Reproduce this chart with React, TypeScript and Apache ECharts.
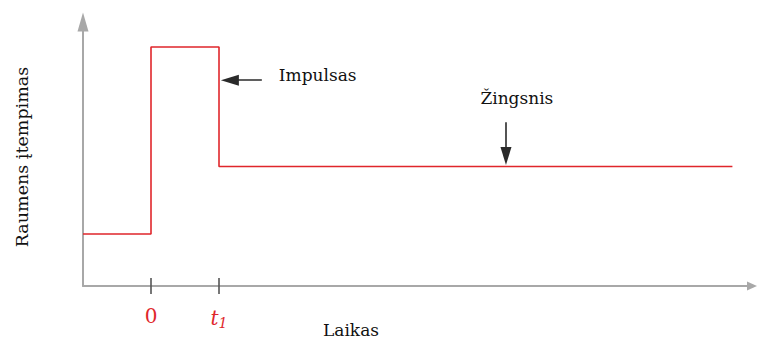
import React, { useEffect, useRef } from "react";
import * as echarts from "echarts";

// Muscle tension over time (arbitrary units)
const times = [-1, 0, 0, 1, 1, 8.55];
const tension = [1, 1, 4.6, 4.6, 2.3, 2.3];
const tickValues = [0, 1];
const tickLabels = ["0", "t1"];
// arrow ends are the centres of the arrow heads
const impulseArrow = { from: [1.63, 3.96], to: [1.16, 3.96] };
const stepArrow = { from: [5.22, 3.15], to: [5.22, 2.5] };
const impulseText = { label: "Impulsas", at: [1.88, 4.06] };
const stepText = { label: "Žingsnis", at: [5.38, 3.62] };
const xTitle = "Laikas";
const yTitle = "Raumens įtempimas";

const FONT = "DejaVu Serif";
const RED = "#e0262b";
const AXIS = "#a8a8a8";

export default function App() {
  const ref = useRef<HTMLDivElement>(null);
  useEffect(() => {
    if (!ref.current) return;
    const chart = echarts.init(ref.current, undefined, { renderer: "svg" });
    chart.setOption({
      animation: false,
      grid: { left: 83, right: 5, top: 22, bottom: 54 },
      xAxis: {
        type: "value",
        min: -1,
        max: 8.838,
        splitLine: { show: false },
        axisTick: { show: false },
        axisLine: {
          show: true,
          onZero: false,
          symbol: ["none", "triangle"],
          symbolSize: [9, 10],
          lineStyle: { color: AXIS, width: 2 },
        },
        axisLabel: {
          customValues: tickValues,
          margin: 20,
          formatter: (v: number) => {
            const i = tickValues.indexOf(v);
            if (i < 0) return "";
            const s = tickLabels[i];
            if (s.startsWith("t")) return "{t|t}{s|" + s.slice(1) + "}";
            return "{z|" + s + "}";
          },
          rich: {
            z: { color: RED, fontFamily: FONT, fontSize: 20 },
            t: { color: RED, fontFamily: FONT, fontSize: 20, fontStyle: "italic" },
            s: { color: RED, fontFamily: FONT, fontSize: 14, fontStyle: "italic", padding: [10, 0, 0, 0] },
          },
        },
      },
      yAxis: {
        type: "value",
        min: 0,
        max: 5.08,
        splitLine: { show: false },
        axisTick: { show: false },
        axisLabel: { show: false },
        axisLine: {
          show: true,
          onZero: false,
          symbol: ["none", "triangle"],
          symbolSize: [11, 19],
          lineStyle: { color: AXIS, width: 2 },
        },
      },
      series: [
        {
          type: "line",
          data: times.map((t, i) => [t, tension[i]]),
          symbol: "none",
          lineStyle: { color: RED, width: 1.6 },
          markLine: {
            silent: true,
            symbol: ["none", "triangle"],
            symbolSize: [11, 18],
            label: { show: false },
            lineStyle: { color: "#2a2a2a", width: 1.6, type: "solid" },
            data: [
              [{ coord: impulseArrow.from }, { coord: impulseArrow.to }],
              [{ coord: stepArrow.from }, { coord: stepArrow.to }],
            ],
          },
        },
        {
          type: "scatter",
          clip: false,
          symbol: "rect",
          symbolSize: [2, 16],
          itemStyle: { color: "#555" },
          data: tickValues.map((v) => [v, 0]),
        },
      ],
    });
    const p1 = chart.convertToPixel({ gridIndex: 0 }, impulseText.at);
    const p2 = chart.convertToPixel({ gridIndex: 0 }, stepText.at);
    const tstyle = { fill: "#111", fontFamily: FONT, fontSize: 17 };
    chart.setOption({
      graphic: [
        { type: "text", x: p1[0], y: p1[1], style: { ...tstyle, text: impulseText.label, align: "left", verticalAlign: "middle" } },
        { type: "text", x: p2[0], y: p2[1], style: { ...tstyle, text: stepText.label, align: "center", verticalAlign: "middle" } },
        { type: "text", x: 323, y: 330, style: { ...tstyle, text: xTitle, align: "left", verticalAlign: "middle" } },
        { type: "text", x: 22, y: 157, rotation: Math.PI / 2, style: { ...tstyle, fontSize: 17.5, text: yTitle, align: "center", verticalAlign: "middle" } },
      ],
    });
    return () => chart.dispose();
  }, []);
  return <div ref={ref} style={{ width: 757, height: 340, position: "absolute", left: 0, top: 0 }} />;
}
